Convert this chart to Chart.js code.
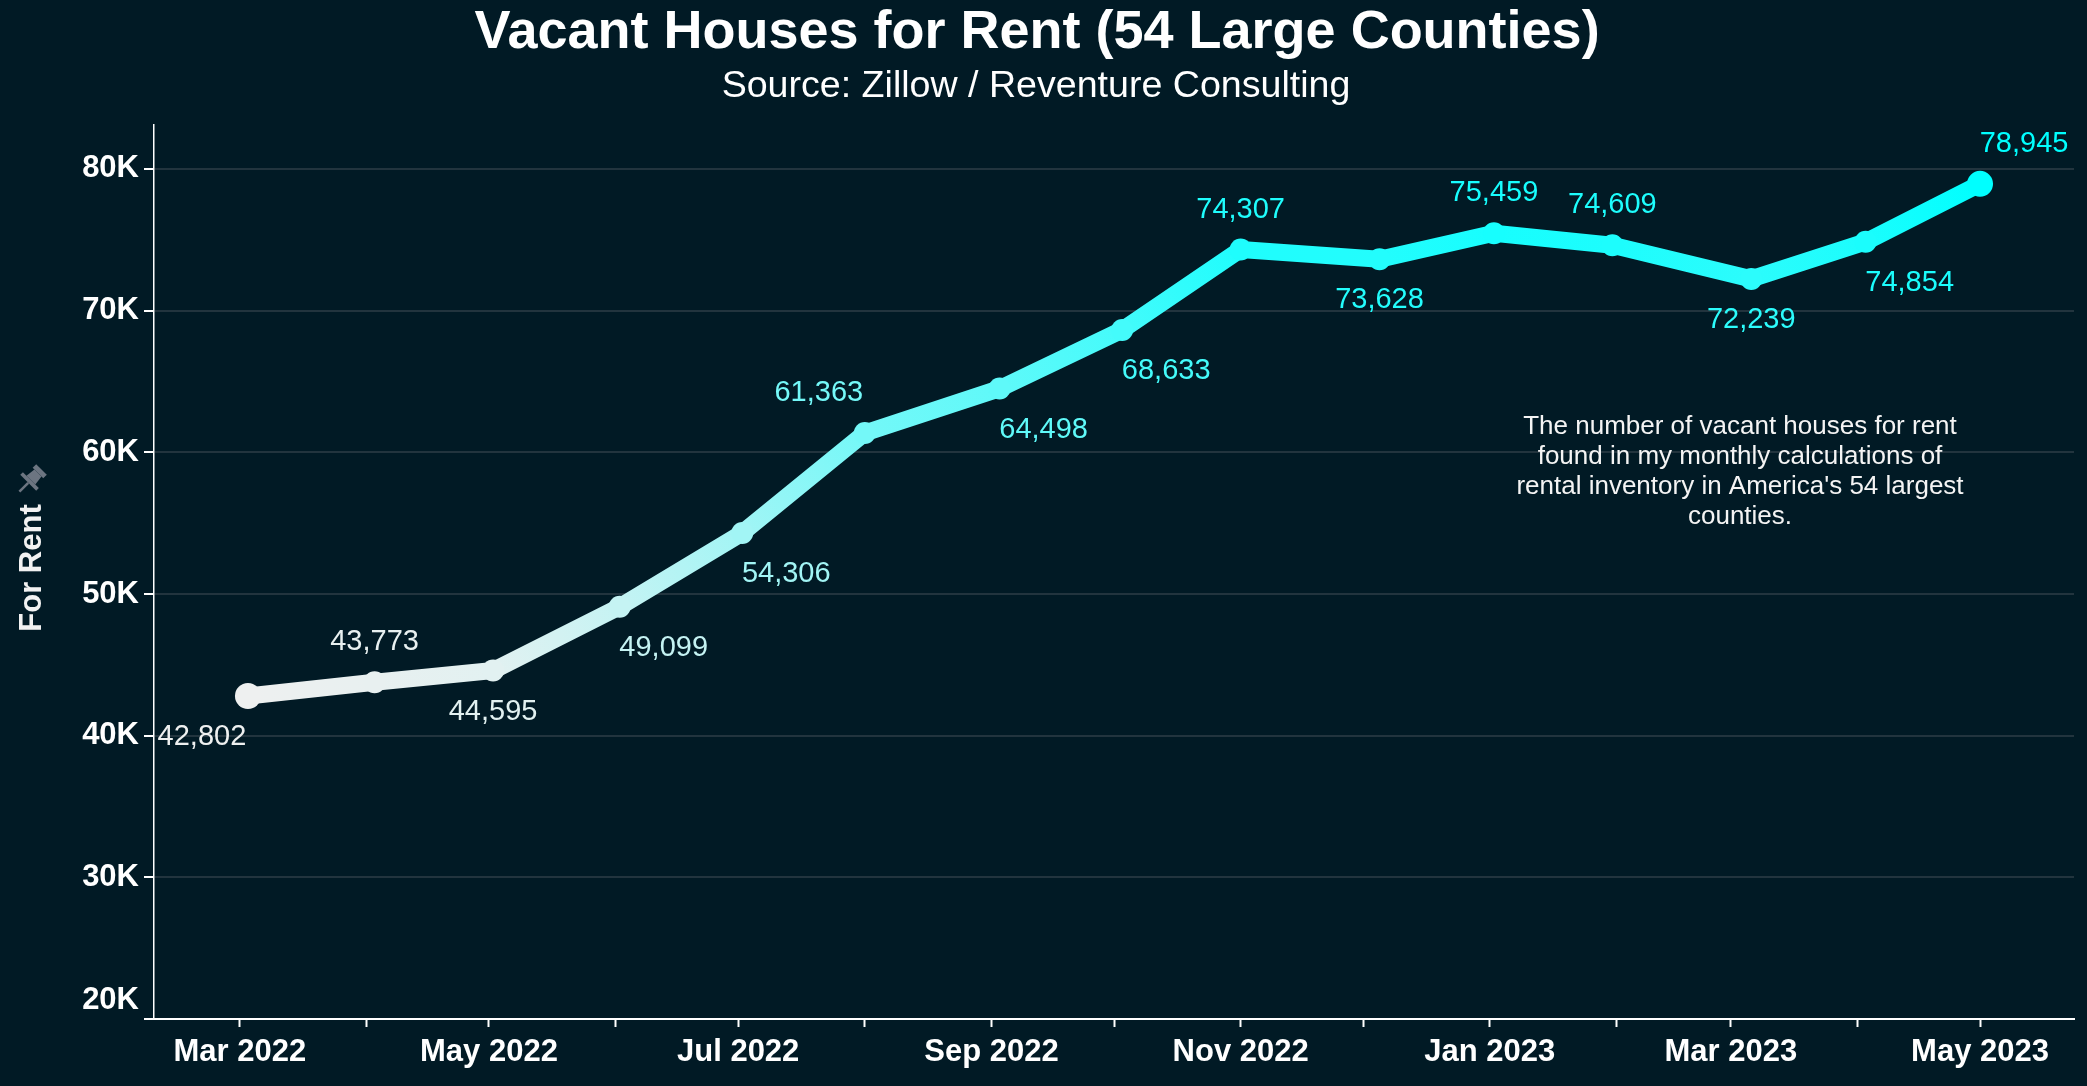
<!DOCTYPE html>
<html>
<head>
<meta charset="utf-8">
<title>Vacant Houses for Rent (54 Large Counties)</title>
<script src="https://cdn.jsdelivr.net/npm/chart.js@4.4.1/dist/chart.umd.min.js"></script>
<style>
  html, body { margin: 0; padding: 0; background: #011a25; }
  canvas { display: block; }
</style>
</head>
<body>
<canvas id="rentChart" width="2087" height="1086"></canvas>
<script>
// monthly snapshot dates and the vacant-for-rent counts
const dates = [
  '2022-03-03', '2022-04-03', '2022-05-02', '2022-06-02', '2022-07-02',
  '2022-08-01', '2022-09-03', '2022-10-03', '2022-11-01', '2022-12-05',
  '2023-01-02', '2023-01-31', '2023-03-06', '2023-04-03', '2023-05-01',
];
const forRent = [
  42802, 43773, 44595, 49099, 54306, 61363, 64498, 68633,
  74307, 73628, 75459, 74609, 72239, 74854, 78945,
];
// where each value label sits: a = above, b = below, l / r = shifted left / right
const labelSpots = ['bl', 'a', 'b', 'br', 'br', 'al', 'br', 'br', 'a', 'b', 'a', 'a', 'b', 'br', 'ar'];

const monthTicks = [
  '2022-03-01', '2022-04-01', '2022-05-01', '2022-06-01', '2022-07-01',
  '2022-08-01', '2022-09-01', '2022-10-01', '2022-11-01', '2022-12-01',
  '2023-01-01', '2023-02-01', '2023-03-01', '2023-04-01', '2023-05-01',
];
const monthLabels = [
  'Mar 2022', '', 'May 2022', '', 'Jul 2022', '', 'Sep 2022', '',
  'Nov 2022', '', 'Jan 2023', '', 'Mar 2023', '', 'May 2023',
];
const yTicks = [20000, 30000, 40000, 50000, 60000, 70000, 80000];

const noteLines = [
  'The number of vacant houses for rent',
  'found in my monthly calculations of',
  "rental inventory in America's 54 largest",
  'counties.',
];

const FONT = '"Liberation Sans", Arial, sans-serif';
const toDay = (s) => Date.parse(s) / 864e5;

const lo = Math.min(...forRent);
const hi = Math.max(...forRent);
// light grey -> cyan, by value
function colorFor(v) {
  const t = (v - lo) / (hi - lo);
  const r = Math.round(238 * (1 - t));
  const g = Math.round(240 + 15 * t);
  return `rgb(${r},${g},${g})`;
}

function drawPin(c, x, y) {
  c.save();
  c.translate(x, y);
  c.rotate(Math.PI / 4);
  c.scale(1.25, 1.25);
  c.fillStyle = '#6c7581';
  c.fillRect(-6, -13, 12, 4);
  c.beginPath();
  c.moveTo(-4, -9);
  c.lineTo(4, -9);
  c.lineTo(5, -1);
  c.lineTo(-5, -1);
  c.closePath();
  c.fill();
  c.fillRect(-9, -1, 18, 3);
  c.fillRect(-1, 2, 2, 10);
  c.restore();
}

const decorations = {
  id: 'decorations',
  afterDatasetsDraw(chart) {
    const c = chart.ctx;
    const meta = chart.getDatasetMeta(0);
    c.save();
    c.font = '29px ' + FONT;
    c.textAlign = 'center';
    c.textBaseline = 'middle';
    meta.data.forEach((pt, i) => {
      const spot = labelSpots[i];
      let dx = 0;
      const dy = spot[0] === 'a' ? -40 : 41;
      if (spot[1] === 'l') dx = -46;
      if (spot[1] === 'r') dx = 44;
      c.fillStyle = colorFor(forRent[i]);
      c.fillText(forRent[i].toLocaleString('en-US'), pt.x + dx, pt.y + dy);
    });
    c.restore();
  },
  afterDraw(chart) {
    const c = chart.ctx;
    const y = chart.scales.y;
    c.save();
    c.fillStyle = '#ffffff';
    c.textAlign = 'center';
    c.textBaseline = 'alphabetic';
    c.font = 'bold 54px ' + FONT;
    c.fillText('Vacant Houses for Rent (54 Large Counties)', 1037, 48);
    c.font = '37.6px ' + FONT;
    c.fillText('Source: Zillow / Reventure Consulting', 1036, 97);

    // bottom tick label sits a bit higher than its tick
    c.font = 'bold 31px ' + FONT;
    c.textAlign = 'right';
    c.textBaseline = 'middle';
    c.fillText('20K', y.right - 15, y.getPixelForValue(yTicks[0]) - 19);

    // axis title
    c.save();
    c.translate(41, 568);
    c.rotate(-Math.PI / 2);
    c.textAlign = 'center';
    c.textBaseline = 'alphabetic';
    c.fillStyle = '#f2f2f2';
    c.fillText('For Rent', 0, 0);
    c.restore();
    drawPin(c, 30, 481);

    // note
    c.font = '26px ' + FONT;
    c.fillStyle = '#f4f4f4';
    c.textAlign = 'center';
    noteLines.forEach((line, i) => c.fillText(line, 1740, 427 + i * 30));
    c.restore();
  },
};

const ctx = document.getElementById('rentChart').getContext('2d');

new Chart(ctx, {
  type: 'line',
  data: {
    datasets: [
      {
        data: dates.map((d, i) => ({ x: toDay(d), y: forRent[i] })),
        borderWidth: 17,
        borderCapStyle: 'round',
        borderJoinStyle: 'round',
        pointRadius: (c) => (c.dataIndex === 0 || c.dataIndex === forRent.length - 1 ? 13 : 11),
        pointHoverRadius: (c) => (c.dataIndex === 0 || c.dataIndex === forRent.length - 1 ? 13 : 11),
        pointBorderWidth: 0,
        pointBackgroundColor: (c) => colorFor(forRent[c.dataIndex]),
        segment: {
          borderColor: (s) => {
            const g = s.chart.ctx.createLinearGradient(s.p0.x, s.p0.y, s.p1.x, s.p1.y);
            g.addColorStop(0, colorFor(forRent[s.p0DataIndex]));
            g.addColorStop(1, colorFor(forRent[s.p1DataIndex]));
            return g;
          },
        },
        clip: false,
      },
    ],
  },
  options: {
    responsive: false,
    animation: false,
    devicePixelRatio: 1,
    events: [],
    layout: { padding: { top: 125, right: 13, left: 0, bottom: 0 } },
    plugins: {
      legend: { display: false },
      tooltip: { enabled: false },
    },
    scales: {
      x: {
        type: 'linear',
        min: toDay('2022-02-08'),
        max: toDay('2023-05-24'),
        afterBuildTicks: (scale) => {
          scale.ticks = monthTicks.map((d) => ({ value: toDay(d) }));
        },
        afterFit: (scale) => {
          scale.height = 67;
        },
        ticks: {
          autoSkip: false,
          maxRotation: 0,
          padding: 7,
          color: '#ffffff',
          font: { family: FONT, size: 31, weight: 'bold' },
          callback: (v, i) => monthLabels[i],
        },
        grid: {
          drawOnChartArea: false,
          tickLength: 8,
          tickColor: '#ffffff',
          tickWidth: 2,
        },
        border: { color: '#ffffff', width: 2 },
      },
      y: {
        min: 20000,
        max: 83100,
        afterBuildTicks: (scale) => {
          scale.ticks = yTicks.map((v) => ({ value: v }));
        },
        afterFit: (scale) => {
          scale.width = 154;
        },
        ticks: {
          padding: 5,
          color: '#ffffff',
          font: { family: FONT, size: 31, weight: 'bold' },
          callback: (v) => (v === yTicks[0] ? '' : v / 1000 + 'K'),
        },
        grid: {
          color: '#22343e',
          lineWidth: 2,
          tickLength: 10,
          tickColor: '#ffffff',
          tickWidth: 2,
        },
        border: { color: '#ffffff', width: 1.5 },
      },
    },
  },
  plugins: [decorations],
});
</script>
</body>
</html>
